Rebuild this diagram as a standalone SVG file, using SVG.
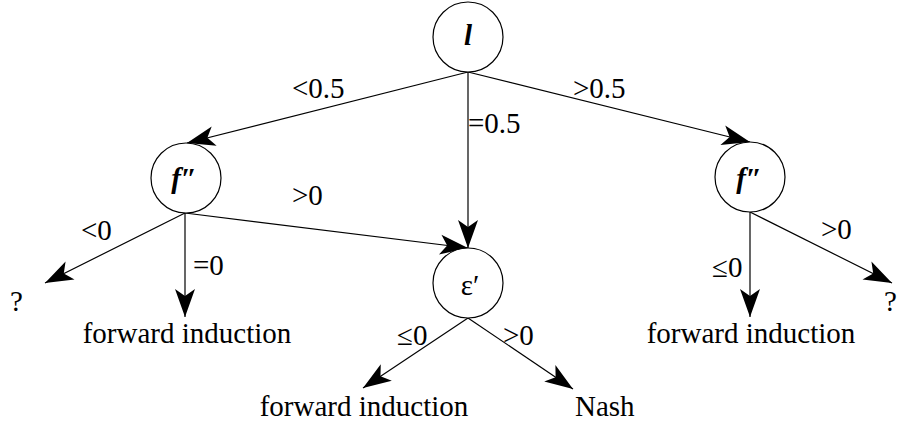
<svg xmlns="http://www.w3.org/2000/svg" width="899" height="428" viewBox="0 0 899 428">
<style>
text{font-family:"Liberation Serif","Times New Roman",serif;font-size:29px;fill:#000}
.node{fill:#fff;stroke:#000;stroke-width:1.2}
.bi{font-weight:bold;font-style:italic}
.e{stroke:#000;stroke-width:1.2;fill:none;marker-end:url(#ah)}
</style>
<defs>
<marker id="ah" viewBox="-30 -12 32 24" refX="0" refY="0" markerWidth="32" markerHeight="24" markerUnits="userSpaceOnUse" orient="auto">
<path d="M0,0 L-28,-10 L-21,0 L-28,10 Z" fill="#000"/>
</marker>
</defs>
<rect width="899" height="428" fill="#fff"/>
<g id="connectors">
<line class="e" x1="468" y1="72" x2="187" y2="143"/>
<line class="e" x1="468" y1="72" x2="468" y2="248"/>
<line class="e" x1="468" y1="72" x2="750" y2="142"/>
<line class="e" x1="185" y1="213" x2="45" y2="283"/>
<line class="e" x1="185" y1="213" x2="185" y2="317"/>
<line class="e" x1="185" y1="213" x2="468" y2="248"/>
<line class="e" x1="468" y1="318" x2="363" y2="388"/>
<line class="e" x1="468" y1="318" x2="573" y2="389"/>
<line class="e" x1="750" y1="212" x2="750" y2="317"/>
<line class="e" x1="750" y1="212" x2="892" y2="283"/>
</g>
<g id="edge-labels">
<text x="292" y="98">&lt;0.5</text>
<text x="468" y="133">=0.5</text>
<text x="573" y="98">&gt;0.5</text>
<text x="81" y="240">&lt;0</text>
<text x="193" y="275">=0</text>
<text x="292" y="205">&gt;0</text>
<text x="397" y="345">≤0</text>
<text x="503" y="345">&gt;0</text>
<text x="712" y="277">≤0</text>
<text x="821" y="239">&gt;0</text>
</g>
<g id="node-l"><circle class="node" cx="468" cy="37" r="35"/><text class="bi" x="468" y="45" text-anchor="middle">l</text></g>
<g id="node-f-left"><circle class="node" cx="186" cy="178" r="35"/><text class="bi" x="184" y="188" text-anchor="middle">f″</text></g>
<g id="node-eps"><circle class="node" cx="468" cy="283" r="35"/><text x="470" y="295" text-anchor="middle">ε′</text></g>
<g id="node-f-right"><circle class="node" cx="750" cy="177" r="35"/><text class="bi" x="749" y="188" text-anchor="middle">f″</text></g>
<g id="leaf-q-left"><text x="10" y="311">?</text></g>
<g id="leaf-fi-left"><text x="187" y="343" text-anchor="middle">forward induction</text></g>
<g id="leaf-fi-mid"><text x="364" y="416" text-anchor="middle">forward induction</text></g>
<g id="leaf-nash"><text x="575" y="416">Nash</text></g>
<g id="leaf-fi-right"><text x="751" y="343" text-anchor="middle">forward induction</text></g>
<g id="leaf-q-right"><text x="884" y="311">?</text></g>
</svg>
